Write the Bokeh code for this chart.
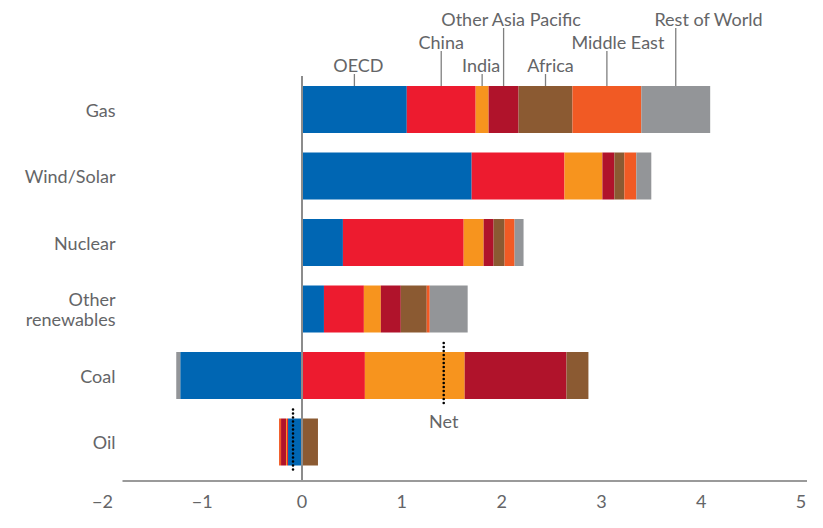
import numpy as np
from bokeh.plotting import figure
from bokeh.models import Range1d
from bokeh.core.properties import value
from bokeh.embed import file_html
from bokeh.resources import INLINE

# ---------------- data ----------------
categories = ["Gas", "Wind/Solar", "Nuclear", "Other\nrenewables", "Coal", "Oil"]
regions = ["OECD", "China", "India", "Other Asia Pacific", "Africa", "Middle East", "Rest of World"]
oecd = [1.05, 1.70, 0.41, 0.22, -1.22, -0.14]
china = [0.69, 0.93, 1.21, 0.40, 0.63, -0.01]
india = [0.13, 0.38, 0.20, 0.17, 1.00, -0.01]
other_asia_pacific = [0.30, 0.12, 0.10, 0.20, 1.02, -0.05]
africa = [0.54, 0.10, 0.11, 0.26, 0.22, 0.16]
middle_east = [0.69, 0.12, 0.10, 0.03, 0.00, -0.02]
rest_of_world = [0.69, 0.15, 0.09, 0.38, -0.04, 0.00]
net_categories = ["Coal", "Oil"]
net_values = [1.42, -0.09]
x_ticks = [-2, -1, 0, 1, 2, 3, 4, 5]
x_tick_labels = ["\u22122", "\u22121", "0", "1", "2", "3", "4", "5"]

# ---------------- style ----------------
colors = ["#0066b3", "#ed1b2f", "#f7941e", "#b0132b", "#8b5a32", "#f15a24", "#939598"]
label_levels = [3, 2, 3, 1, 3, 2, 1]
label_offsets_px = [4, 0, -1, 8, 5, 11, 33]
FONT = "Lato"
FSIZE = "18px"
TEXT_COLOR = "#646567"

W, H = 807, 512
XPX, YPX = 99.8, 66.5          # pixels per x unit / per category step
x0_px, y0_px = 301.5, 109.0    # pixel position of x=0 and of the first category
BAR_H = 47 / YPX

series = [oecd, china, india, other_asia_pacific, africa, middle_east, rest_of_world]
vals = np.array(series, dtype=float)
ypos = np.arange(len(categories), dtype=float)

p = figure(width=W, height=H,
           x_range=Range1d(-x0_px / XPX, (W - x0_px) / XPX),
           y_range=Range1d((H - y0_px) / YPX, -y0_px / YPX),
           output_backend="svg", toolbar_location=None,
           x_axis_location=None, y_axis_location=None,
           min_border=0, outline_line_color=None)
p.grid.visible = False
p.xgrid.grid_line_color = None
p.ygrid.grid_line_color = None
p.background_fill_color = "white"

# stacked bars (positive and negative stacks separately)
pos = np.where(vals > 0, vals, 0.0)
neg = np.where(vals < 0, vals, 0.0)
pos_right = np.cumsum(pos, axis=0)
pos_left = pos_right - pos
neg_left = np.cumsum(neg, axis=0)
neg_right = neg_left - neg
lefts, rights = [], []
for i in range(len(series)):
    left = np.where(vals[i] >= 0, pos_left[i], neg_left[i])
    right = np.where(vals[i] >= 0, pos_right[i], neg_right[i])
    lefts.append(left)
    rights.append(right)
    p.hbar(y=ypos, left=left, right=right, height=BAR_H,
           fill_color=colors[i], line_color=None)

# zero line and bottom axis line
axis_y = ypos[-1] + 39 / YPX
p.segment(x0=[0], y0=[ypos[0] - BAR_H / 2 - 10 / YPX], x1=[0], y1=[axis_y],
          line_color="#8c8c8c", line_width=2)
p.segment(x0=[(122 - x0_px) / XPX], y0=[axis_y], x1=[(W - x0_px) / XPX], y1=[axis_y],
          line_color="#9a9a9a", line_width=2)

# x tick labels
p.text(x=x_ticks, y=[axis_y + 20 / YPX] * len(x_ticks), text=x_tick_labels,
       text_font=value(FONT), text_font_size=FSIZE, text_color=TEXT_COLOR,
       text_align="center", text_baseline="middle")

# category labels
p.text(x=[(115 - x0_px) / XPX] * len(categories), y=ypos, text=categories,
       text_font=value(FONT), text_font_size=FSIZE, text_color=TEXT_COLOR,
       text_align="right", text_baseline="middle", text_line_height=0.9)

# region labels with leader lines above the Gas bar
mids = [(lefts[i][0] + rights[i][0]) / 2 for i in range(len(series))]
bar_top = ypos[0] - BAR_H / 2
tx, ty, ly1 = [], [], []
for m, lev, off in zip(mids, label_levels, label_offsets_px):
    yc = bar_top - (21 + (3 - lev) * 23) / YPX
    tx.append(m + off / XPX)
    ty.append(yc)
    ly1.append(yc + 9 / YPX)
p.segment(x0=mids, y0=[bar_top] * len(mids), x1=mids, y1=ly1,
          line_color="#7f7f7f", line_width=1.3)
p.text(x=tx, y=ty, text=regions, text_font=value(FONT), text_font_size=FSIZE,
       text_color=TEXT_COLOR, text_align="center", text_baseline="middle")

# net markers
net_y = [ypos[categories.index(c)] for c in net_categories]
p.segment(x0=net_values, y0=[y - BAR_H / 2 - 9 / YPX for y in net_y],
          x1=net_values, y1=[y + BAR_H / 2 + 7 / YPX for y in net_y],
          line_color="black", line_width=2.6, line_dash="0 4", line_cap="round")
p.text(x=[net_values[0]], y=[net_y[0] + 45 / YPX], text=["Net"],
       text_font=value(FONT), text_font_size=FSIZE, text_color=TEXT_COLOR,
       text_align="center", text_baseline="middle")

open("out.html", "w").write(file_html(p, INLINE))
